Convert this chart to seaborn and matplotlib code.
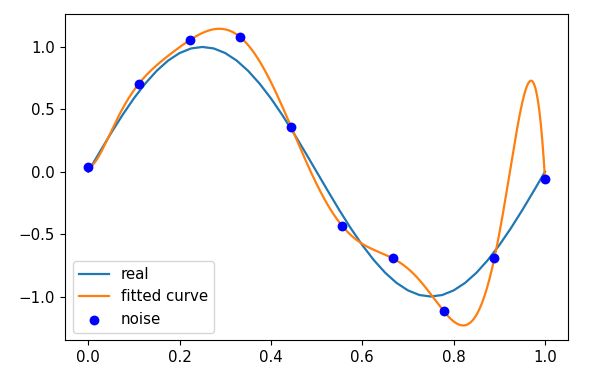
import numpy as np
import matplotlib
matplotlib.use("Agg")
import matplotlib.pyplot as plt
import seaborn as sns

# noisy samples
noise_x = [0.0, 0.111, 0.222, 0.333, 0.444, 0.556, 0.667, 0.778, 0.889, 1.0]
noise_y = [0.034, 0.706, 1.054, 1.078, 0.362, -0.434, -0.695, -1.116, -0.695, -0.06]

# the "real" curve, read at 41 positions
real_x = np.linspace(0, 1, 41)
real_y = [0.000, 0.156, 0.309, 0.454, 0.588, 0.707, 0.809, 0.891, 0.951, 0.988,
          1.000, 0.988, 0.951, 0.891, 0.809, 0.707, 0.588, 0.454, 0.309, 0.156,
          0.000, -0.156, -0.309, -0.454, -0.588, -0.707, -0.809, -0.891, -0.951, -0.988,
          -1.000, -0.988, -0.951, -0.891, -0.809, -0.707, -0.588, -0.454, -0.309, -0.156,
          0.000]

plt.rcParams["font.size"] = 10.8
plt.rcParams["xtick.major.size"] = 3.8
plt.rcParams["ytick.major.size"] = 3.8

# degree 9 polynomial through the 10 noisy points, evaluated on a fine grid
coef = np.polyfit(noise_x, noise_y, 9)
fit_x = np.linspace(0, 1, 1000)
fit_y = np.polyval(coef, fit_x)

fig = plt.figure(figsize=(5.94, 3.76), dpi=100)
ax = fig.add_axes([0.110, 0.095, 0.846, 0.868])

sns.lineplot(x=real_x, y=real_y, color="#1f77b4", linewidth=1.6, label="real", ax=ax)
sns.lineplot(x=fit_x, y=fit_y, color="#ff7f0e", linewidth=1.6, label="fitted curve", ax=ax)
sns.scatterplot(x=noise_x, y=noise_y, color="blue", s=50, linewidth=0,
                label="noise", ax=ax, zorder=3)

ax.set_xticks([0.0, 0.2, 0.4, 0.6, 0.8, 1.0])
ax.set_yticks([-1.0, -0.5, 0.0, 0.5, 1.0])
ax.legend(loc="lower left")

fig.savefig("out.png", dpi=100)
